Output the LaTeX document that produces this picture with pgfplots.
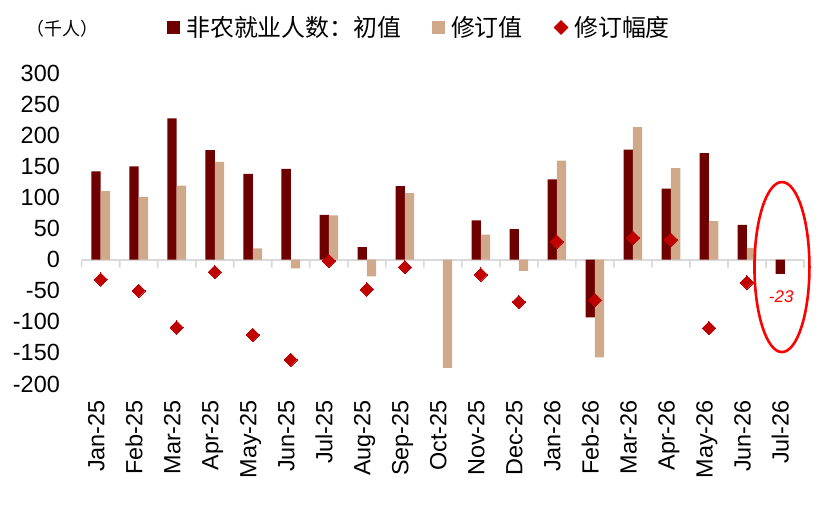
\documentclass[border=0pt]{standalone}
\usepackage{pgfplots}
\pgfplotsset{compat=1.18}
\usepackage{fontspec}
\setmainfont{Liberation Sans}
\newfontfamily\cjk{Noto Sans CJK SC}
\definecolor{darkred}{HTML}{6E0000}
\definecolor{tan}{HTML}{CFA98A}
\definecolor{diam}{HTML}{C00000}
\definecolor{zline}{HTML}{D9D9D9}
\begin{document}
\begin{tikzpicture}
\useasboundingbox (-81.7bp,-124bp) rectangle (748.3bp,384bp);
\begin{axis}[
  at={(0,0)}, anchor=south west,
  scale only axis, width=722.3bp, height=311bp,
  xmin=-0.5, xmax=18.5, ymin=-200, ymax=300,
  clip=false,
  axis line style={draw=none},
  tick style={draw=none}, major tick length=0pt,
  ytick={-200,-150,-100,-50,0,50,100,150,200,250,300},
  xtick={0,...,18},
  xticklabels={Jan-25,Feb-25,Mar-25,Apr-25,May-25,Jun-25,Jul-25,Aug-25,Sep-25,Oct-25,Nov-25,Dec-25,Jan-26,Feb-26,Mar-26,Apr-26,May-26,Jun-26,Jul-26},
  /pgf/number format/assume math mode=true,
  yticklabel style={font=\fontsize{23.5}{23.5}\selectfont, anchor=east, inner sep=0pt, xshift=-21.7bp},
  xticklabel style={font=\fontsize{23.5}{23.5}\selectfont, rotate=90, anchor=east, inner sep=0pt, text height=0.72em, text depth=0em},
  xticklabel shift=16bp,
  legend columns=3,
  legend style={draw=none, fill=none, at={(0.1185,1.1463)}, anchor=west,
    font=\cjk\fontsize{24}{24}\selectfont, inner sep=0pt,
    nodes={inner sep=0pt},
    /tikz/every odd column/.append style={column sep=6bp},
    /tikz/every even column/.append style={column sep=31bp}},
]
% zero line and category boundary ticks
\addplot[zline, line width=2bp, forget plot] coordinates {(-0.5,0) (18.5,0)};
\addplot[ybar, bar width=1.6bp, bar shift=0bp, fill=zline, draw=none, forget plot] coordinates {
(-0.5,-13) (0.5,-13) (1.5,-13) (2.5,-13) (3.5,-13) (4.5,-13) (5.5,-13) (6.5,-13) (7.5,-13) (8.5,-13)
(9.5,-13) (10.5,-13) (11.5,-13) (12.5,-13) (13.5,-13) (14.5,-13) (15.5,-13) (16.5,-13) (17.5,-13) (18.5,-13)};
% initial values
\addplot[ybar, bar width=9.3bp, bar shift=-4.65bp, fill=darkred, draw=none,
  legend image code/.code={\fill[darkred] (0bp,-6.2bp) rectangle (12.7bp,6.2bp);}] coordinates {
(0,142) (1,150) (2,227) (3,176) (4,138) (5,146) (6,72) (7,20) (8,118)
(10,63) (11,49) (12,129) (13,-93) (14,177) (15,114) (16,171) (17,56) (18,-23)};
\addlegendentry{非农就业人数：初值}
% revised values
\addplot[ybar, bar width=9.3bp, bar shift=4.65bp, fill=tan, draw=none,
  legend image code/.code={\fill[tan] (0bp,-6.2bp) rectangle (12.7bp,6.2bp);}] coordinates {
(0,110) (1,101) (2,119) (3,157) (4,18) (5,-14) (6,71) (7,-27) (8,107) (9,-174)
(10,40) (11,-18) (12,159) (13,-157) (14,213) (15,147) (16,62) (17,19)};
\addlegendentry{修订值}
% revisions
\addplot[only marks, draw=diam, fill=diam, mark=square*, mark size=4.7bp,
  mark options={rotate=45, fill=diam, draw=diam, line width=0pt},
  legend image code/.code={\fill[diam] (7bp,-7bp) -- (14bp,0bp) -- (7bp,7bp) -- (0bp,0bp) -- cycle;}] coordinates {
(0,-32) (1,-50) (2,-109) (3,-20) (4,-121) (5,-161) (6,-2) (7,-48) (8,-12)
(10,-24) (11,-68) (12,29) (13,-65) (14,35) (15,32) (16,-110) (17,-37)};
\addlegendentry{修订幅度}
\draw[red, line width=2.6bp] (axis cs:17.92,-12) ellipse [x radius=27.5bp, y radius=85bp];
\node[text=red, font=\itshape\fontsize{17}{17}\selectfont, inner sep=0pt] at (axis cs:17.9,-59) {-23};
\end{axis}
\node[font=\cjk\fontsize{18}{18}\selectfont, inner sep=0pt] at (-19.2bp,355bp) {（千人）};
\end{tikzpicture}
\end{document}
